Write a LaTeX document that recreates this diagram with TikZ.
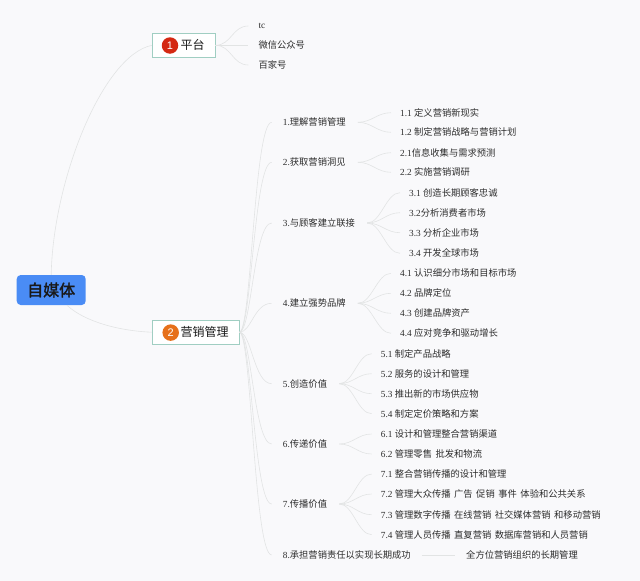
\documentclass[tikz,border=0pt]{standalone}
\usepackage{fontspec}
\setmainfont{Liberation Serif}
\newfontfamily\cjkf[AutoFakeBold=2]{Noto Sans CJK SC}
\newfontfamily\sansf{Liberation Sans}
\newcommand\zh[1]{{\cjkf #1}}
\definecolor{bg}{RGB}{249,249,251}
\definecolor{rootblue}{RGB}{74,140,245}
\definecolor{boxline}{RGB}{160,206,194}
\definecolor{badgered}{RGB}{212,40,18}
\definecolor{badgeorange}{RGB}{230,112,26}
\definecolor{txt}{RGB}{45,45,45}
\definecolor{conn}{RGB}{226,228,228}
\tikzset{
  x=1pt, y=-1pt,
  rootnode/.style={fill=rootblue, rounded corners=4pt, minimum width=69pt, minimum height=30pt, inner sep=0pt, text=black!90, font=\fontsize{16}{18}\selectfont\cjkf\bfseries},
  catbox/.style={draw=boxline, line width=0.7pt, fill=white, inner sep=0pt, minimum height=24pt},
  cattext/.style={anchor=west, inner sep=0pt, text=black!90, font=\fontsize{12}{14}\selectfont\cjkf},
  badge/.style={circle, inner sep=0pt, minimum size=16.5pt, text=white, font=\fontsize{11}{12}\selectfont\sansf},
  leaf/.style={anchor=west, inner xsep=0pt, inner ysep=2pt, text=txt, font=\fontsize{9.3}{11}\selectfont},
  conn/.style={draw=conn, line width=0.6pt},
}
\newcommand\hs{\hspace{3.5pt}}
\begin{document}
\begin{tikzpicture}
\useasboundingbox[fill=bg] (0,0) rectangle (640,581);

% root
\node[rootnode] (root) at (51.2,290) {自媒体};

% category 1
\node[catbox, minimum width=62.7pt] (pt) at (183.7,45.3) {};
\node[badge, fill=badgered] (b1) at (170,45.5) {1};
\node[cattext] (ptt) at (180.5,45.3) {平台};

% category 2
\node[catbox, minimum width=86.7pt] (yx) at (195.7,332.2) {};
\node[badge, fill=badgeorange] (b2) at (170.7,332.6) {2};
\node[cattext] (yxt) at (180.5,332.2) {营销管理};

\draw[conn] (root.north) .. controls (53,180) and (103,55) .. (pt.west);
\draw[conn] ([xshift=-19pt]root.south east) .. controls (85,322) and (120,331) .. (yx.west);

% platform leaves
\node[leaf] (tc) at (258.3,26) {tc};
\node[leaf] (wx) at (258.3,45.3) {\zh{微信公众号}};
\node[leaf] (bj) at (258.3,65) {\zh{百家号}};
\foreach \l in {tc,wx,bj}
  \draw[conn] (pt.east) .. controls +(16,0) and +(-16,0) .. ([xshift=-10pt]\l.west);

% level 2
\node[leaf] (m1) at (282.7,122.3) {1.\zh{理解营销管理}};
\node[leaf] (m2) at (282.7,162.3) {2.\zh{获取营销洞见}};
\node[leaf] (m3) at (282.7,223) {3.\zh{与顾客建立联接}};
\node[leaf] (m4) at (282.7,303.3) {4.\zh{建立强势品牌}};
\node[leaf] (m5) at (282.7,383.7) {5.\zh{创造价值}};
\node[leaf] (m6) at (282.7,444) {6.\zh{传递价值}};
\node[leaf] (m7) at (282.7,504) {7.\zh{传播价值}};
\node[leaf] (m8) at (282.7,555) {8.\zh{承担营销责任以实现长期成功}};
\foreach \m in {m1,m2,m3,m4,m5,m6,m7,m8}
  \draw[conn] (yx.east) .. controls +(12,0) and (254,0 |- \m.west) .. ([xshift=-11pt]\m.west);

% level 3
\node[leaf] (a11) at (400,112.7) {1.1 \zh{定义营销新现实}};
\node[leaf] (a12) at (400,132.3) {1.2 \zh{制定营销战略与营销计划}};
\node[leaf] (a21) at (400,152.7) {2.1\zh{信息收集与需求预测}};
\node[leaf] (a22) at (400,172.3) {2.2 \zh{实施营销调研}};
\node[leaf] (a31) at (409,192.7) {3.1 \zh{创造长期顾客忠诚}};
\node[leaf] (a32) at (409,212.7) {3.2\zh{分析消费者市场}};
\node[leaf] (a33) at (409,232.7) {3.3 \zh{分析企业市场}};
\node[leaf] (a34) at (409,253.3) {3.4 \zh{开发全球市场}};
\node[leaf] (a41) at (400,273.3) {4.1 \zh{认识细分市场和目标市场}};
\node[leaf] (a42) at (400,293.3) {4.2 \zh{品牌定位}};
\node[leaf] (a43) at (400,313.3) {4.3 \zh{创建品牌资产}};
\node[leaf] (a44) at (400,333.3) {4.4 \zh{应对竞争和驱动增长}};
\node[leaf] (a51) at (380.7,353.7) {5.1 \zh{制定产品战略}};
\node[leaf] (a52) at (380.7,373.7) {5.2 \zh{服务的设计和管理}};
\node[leaf] (a53) at (380.7,393.7) {5.3 \zh{推出新的市场供应物}};
\node[leaf] (a54) at (380.7,413.7) {5.4 \zh{制定定价策略和方案}};
\node[leaf] (a61) at (380.7,434) {6.1 \zh{设计和管理整合营销渠道}};
\node[leaf] (a62) at (380.7,454) {6.2 \zh{管理零售\hs 批发和物流}};
\node[leaf] (a71) at (380.7,474) {7.1 \zh{整合营销传播的设计和管理}};
\node[leaf] (a72) at (380.7,494) {7.2 \zh{管理大众传播\hs 广告\hs 促销\hs 事件\hs 体验和公共关系}};
\node[leaf] (a73) at (380.7,514.7) {7.3 \zh{管理数字传播\hs 在线营销\hs 社交媒体营销\hs 和移动营销}};
\node[leaf] (a74) at (380.7,534.7) {7.4 \zh{管理人员传播\hs 直复营销\hs 数据库营销和人员营销}};
\node[leaf] (a81) at (466,555) {\zh{全方位营销组织的长期管理}};

\foreach \p/\c in {m1/a11,m1/a12,m2/a21,m2/a22,m3/a31,m3/a32,m3/a33,m3/a34,
                   m4/a41,m4/a42,m4/a43,m4/a44,m5/a51,m5/a52,m5/a53,m5/a54,
                   m6/a61,m6/a62,m7/a71,m7/a72,m7/a73,m7/a74}
  \draw[conn] ([xshift=12pt]\p.east) .. controls +(14,0) and +(-14,0) .. ([xshift=-9pt]\c.west);
\draw[conn] ([xshift=11pt]m8.east) -- ([xshift=-11pt]a81.west);
\end{tikzpicture}
\end{document}
